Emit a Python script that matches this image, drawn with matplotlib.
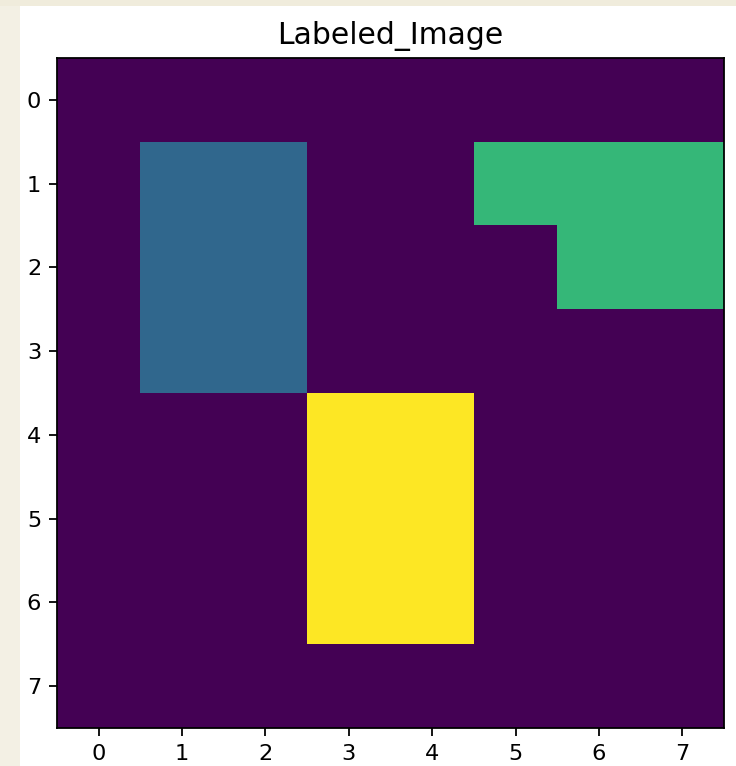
import numpy as np
import matplotlib
matplotlib.use("Agg")
import matplotlib.pyplot as plt
from matplotlib.patches import Rectangle

# Label grid: 0 = background, 1..3 = connected regions
n_rows, n_cols = 8, 8
region_1_rows, region_1_cols = [1, 2, 3], [1, 2]
region_2_cells = [(1, 5), (1, 6), (1, 7), (2, 6), (2, 7)]
region_3_rows, region_3_cols = [4, 5, 6], [3, 4]

labels = np.zeros((n_rows, n_cols), dtype=int)
for r in region_1_rows:
    for c in region_1_cols:
        labels[r, c] = 1
for r, c in region_2_cells:
    labels[r, c] = 2
for r in region_3_rows:
    for c in region_3_cols:
        labels[r, c] = 3

tick_positions = list(range(8))

s = 1.62
plt.rcParams.update({
    "font.size": 10 * s,
    "axes.titlesize": 13.3 * s,
    "axes.linewidth": 0.8 * s,
    "xtick.major.size": 3.5 * s,
    "ytick.major.size": 3.5 * s,
    "xtick.major.width": 0.8 * s,
    "ytick.major.width": 0.8 * s,
    "xtick.major.pad": 3.5 * s,
    "ytick.major.pad": 3.5 * s,
})

fig = plt.figure(figsize=(7.36, 7.66), dpi=100)
fig.patch.set_facecolor("white")
# beige margin strips on the left and top edges
fig.patches.append(Rectangle((0, 0), 20 / 736, 1, transform=fig.transFigure,
                             facecolor="#f3f0e4", edgecolor="none", zorder=-1))
fig.patches.append(Rectangle((0, 1 - 6 / 766), 1, 6 / 766, transform=fig.transFigure,
                             facecolor="#f0ecdc", edgecolor="none", zorder=-1))

ax = fig.add_axes([57 / 736, (766 - 728) / 766, 667 / 736, 670 / 766])
ax.imshow(labels, cmap="viridis", aspect="auto", interpolation="nearest")
ax.set_xticks(tick_positions)
ax.set_yticks(tick_positions)
ax.set_title("Labeled_Image", pad=6.2 * s)

fig.savefig("out.png", dpi=100)
